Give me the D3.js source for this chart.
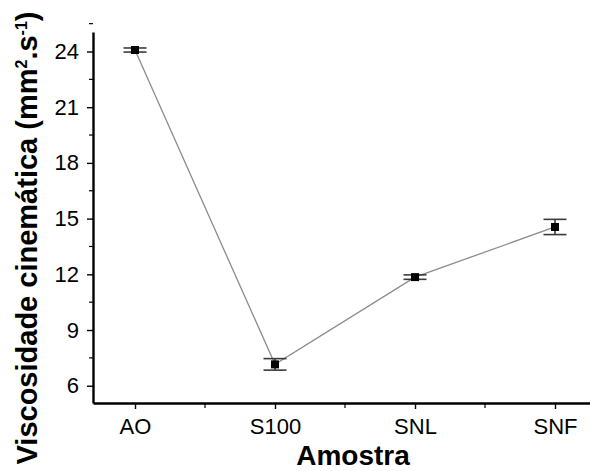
<!doctype html>
<html lang="pt">
  <head>
    <meta charset="utf-8">
    <title>Viscosidade cinemática</title>
    <style>
      body{margin:0;background:#fff;}
      svg{display:block;font-family:"Liberation Sans", Arial, sans-serif;}
    </style>
  </head>
  <body>
    <div class="holder"></div>
    <script src="https://cdn.jsdelivr.net/npm/d3@7"></script>
    <script>
      // data
      var amostras = ["AO", "S100", "SNL", "SNF"];
      var viscosidade = [24.08, 7.15, 11.85, 14.55];
      var erro = [0.11, 0.31, 0.12, 0.41];
      var yTicks = [6, 9, 12, 15, 18, 21, 24];

      var width = 590, height = 471;
      var font = "'Liberation Sans', Arial, sans-serif";

      var svg = d3.select(".holder")
          .append("svg")
          .attr("width", width)
          .attr("height", height);

      // x is an index scale so the axis can extend past the first and last sample
      var x = d3.scaleLinear().domain([-0.3, 3.25]).range([93, 590]);
      var y = d3.scaleLinear().domain([5.07, 25.05]).range([403, 32]);

      var data = amostras.map(function(d, i){
        return {name: d, i: i, v: viscosidade[i], e: erro[i]};
      });

      // y axis
      var yAxis = svg.append("g")
          .attr("transform", "translate(93,0)")
          .call(d3.axisLeft(y).tickValues(yTicks).tickSize(6).tickPadding(8).tickSizeOuter(0));
      // minor ticks
      svg.append("g").selectAll("line")
          .data(yTicks.map(function(t){ return t + 1.5; }))
          .enter().append("line")
          .attr("x1", 89).attr("x2", 93)
          .attr("y1", function(d){ return y(d); })
          .attr("y2", function(d){ return y(d); })
          .attr("stroke", "#000").attr("stroke-width", 1.2);

      // x axis
      var xAxis = svg.append("g")
          .attr("transform", "translate(0,403)")
          .call(d3.axisBottom(x).tickValues([0, 1, 2, 3])
            .tickFormat(function(d){ return amostras[d]; })
            .tickSize(6).tickPadding(9).tickSizeOuter(0));
      svg.append("g").selectAll("line")
          .data([0.5, 1.5, 2.5])
          .enter().append("line")
          .attr("x1", function(d){ return x(d); })
          .attr("x2", function(d){ return x(d); })
          .attr("y1", 403).attr("y2", 408)
          .attr("stroke", "#000").attr("stroke-width", 1.2);

      [yAxis, xAxis].forEach(function(a){
        a.attr("font-family", font);
        a.select(".domain").attr("stroke", "#000").attr("stroke-width", 2.4);
        a.selectAll(".tick line").attr("stroke", "#000").attr("stroke-width", 1.4);
        a.selectAll(".tick text").attr("font-size", 22).attr("fill", "#000");
      });

      // connecting line
      var line = d3.line()
          .x(function(d){ return x(d.i); })
          .y(function(d){ return y(d.v); });

      svg.append("path")
          .datum(data)
          .attr("d", line)
          .attr("fill", "none")
          .attr("stroke", "#8c8c8c")
          .attr("stroke-width", 1.3);

      // error bars
      var eb = svg.append("g").selectAll("g")
          .data(data)
          .enter().append("g")
          .attr("stroke", "#3a3a3a")
          .attr("stroke-width", 1.6);

      eb.append("line")
          .attr("x1", function(d){ return x(d.i); })
          .attr("x2", function(d){ return x(d.i); })
          .attr("y1", function(d){ return y(d.v - d.e); })
          .attr("y2", function(d){ return y(d.v + d.e); });
      eb.append("line")
          .attr("x1", function(d){ return x(d.i) - 11.5; })
          .attr("x2", function(d){ return x(d.i) + 11.5; })
          .attr("y1", function(d){ return y(d.v + d.e); })
          .attr("y2", function(d){ return y(d.v + d.e); });
      eb.append("line")
          .attr("x1", function(d){ return x(d.i) - 11.5; })
          .attr("x2", function(d){ return x(d.i) + 11.5; })
          .attr("y1", function(d){ return y(d.v - d.e); })
          .attr("y2", function(d){ return y(d.v - d.e); });

      // markers
      svg.append("g").selectAll("rect")
          .data(data)
          .enter().append("rect")
          .attr("x", function(d){ return x(d.i) - 4; })
          .attr("y", function(d){ return y(d.v) - 4; })
          .attr("width", 8)
          .attr("height", 8)
          .attr("fill", "#000");

      // axis titles
      svg.append("text")
          .attr("x", 353)
          .attr("y", 465)
          .attr("text-anchor", "middle")
          .style("font-size", "28px")
          .style("font-weight", "bold")
          .text("Amostra");

      var yt = svg.append("text")
          .attr("transform", "translate(37,238) rotate(-90)")
          .attr("text-anchor", "middle")
          .style("font-size", "29px")
          .style("font-weight", "bold");
      yt.append("tspan").text("Viscosidade cinemática (mm");
      yt.append("tspan").attr("dy", -10).style("font-size", "16px").text("2");
      yt.append("tspan").attr("dy", 10).text(".s");
      yt.append("tspan").attr("dy", -10).style("font-size", "16px").text("-1");
      yt.append("tspan").attr("dy", 10).text(")");
    </script>
  </body>
</html>
